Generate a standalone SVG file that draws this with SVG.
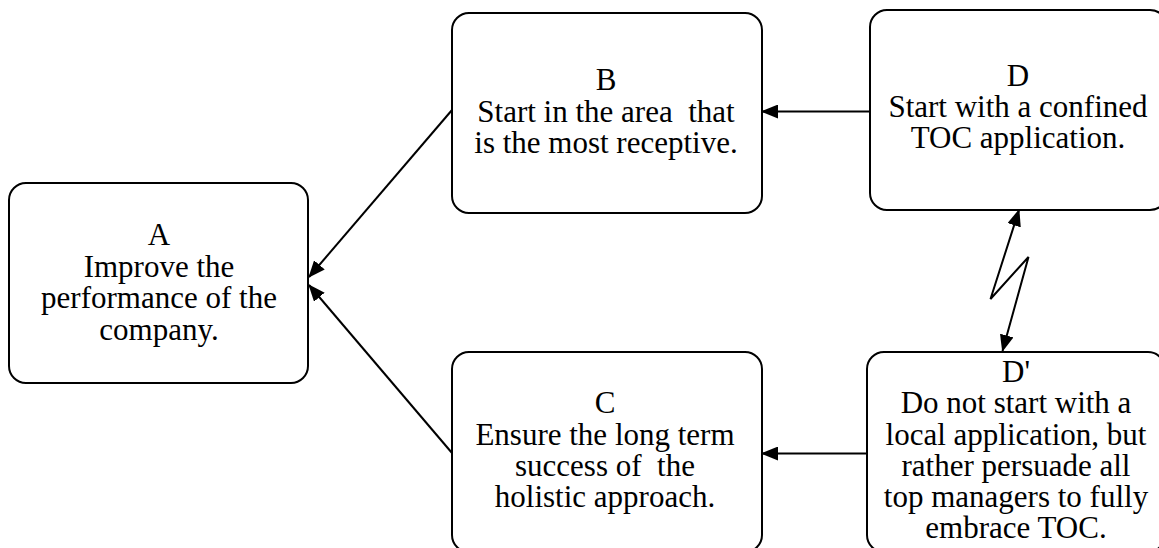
<svg xmlns="http://www.w3.org/2000/svg" width="1159" height="548" viewBox="0 0 1159 548">
<style>
.box{fill:#fff;stroke:#000;stroke-width:2}
.t{font-family:"Liberation Serif","Times New Roman",serif;font-size:31px;fill:#000;text-anchor:middle;white-space:pre}
.c{fill:none;stroke:#000;stroke-width:2}
</style>
<defs>
<marker id="ah" markerUnits="userSpaceOnUse" markerWidth="17" markerHeight="14" refX="16" refY="7" orient="auto-start-reverse"><path d="M0,0 L17,7 L0,14 z" fill="#000"/></marker>
</defs>
<g id="A"><rect class="box" x="9" y="183" width="299" height="200" rx="17"/>
<text class="t" x="159" y="245">A</text><text class="t" x="159" y="276.5">Improve the</text><text class="t" x="159" y="308">performance of the</text><text class="t" x="159" y="339.5">company.</text></g>
<g id="B"><rect class="box" x="452" y="13" width="310" height="200" rx="17"/>
<text class="t" x="606" y="90">B</text><text class="t" x="606" y="121.5">Start in the area  that</text><text class="t" x="606" y="153">is the most receptive.</text></g>
<g id="D"><rect class="box" x="870" y="10" width="297" height="200" rx="17"/>
<text class="t" x="1018" y="86">D</text><text class="t" x="1018" y="117">Start with a confined</text><text class="t" x="1018" y="148">TOC application.</text></g>
<g id="C"><rect class="box" x="452" y="352" width="310" height="200" rx="17"/>
<text class="t" x="605" y="413">C</text><text class="t" x="605" y="445">Ensure the long term</text><text class="t" x="605" y="476">success of  the</text><text class="t" x="605" y="507">holistic approach.</text></g>
<g id="Dp"><rect class="box" x="867" y="352" width="298" height="200" rx="17"/>
<text class="t" x="1016" y="382">D'</text><text class="t" x="1016" y="413">Do not start with a</text><text class="t" x="1016" y="445">local application, but</text><text class="t" x="1016" y="476">rather persuade all</text><text class="t" x="1016" y="507">top managers to fully</text><text class="t" x="1016" y="538">embrace TOC.</text></g>
<g id="connectors">
<line class="c" x1="452" y1="110" x2="309" y2="277" marker-end="url(#ah)"/>
<line class="c" x1="452" y1="453" x2="309" y2="285" marker-end="url(#ah)"/>
<line class="c" x1="870" y1="111.5" x2="762" y2="111.5" marker-end="url(#ah)"/>
<line class="c" x1="867" y1="453.5" x2="762" y2="453.5" marker-end="url(#ah)"/>
<polyline class="c" points="1019,210 990.5,299 1028.5,257 1002.5,351" marker-start="url(#ah)" marker-end="url(#ah)"/>
</g>
</svg>
